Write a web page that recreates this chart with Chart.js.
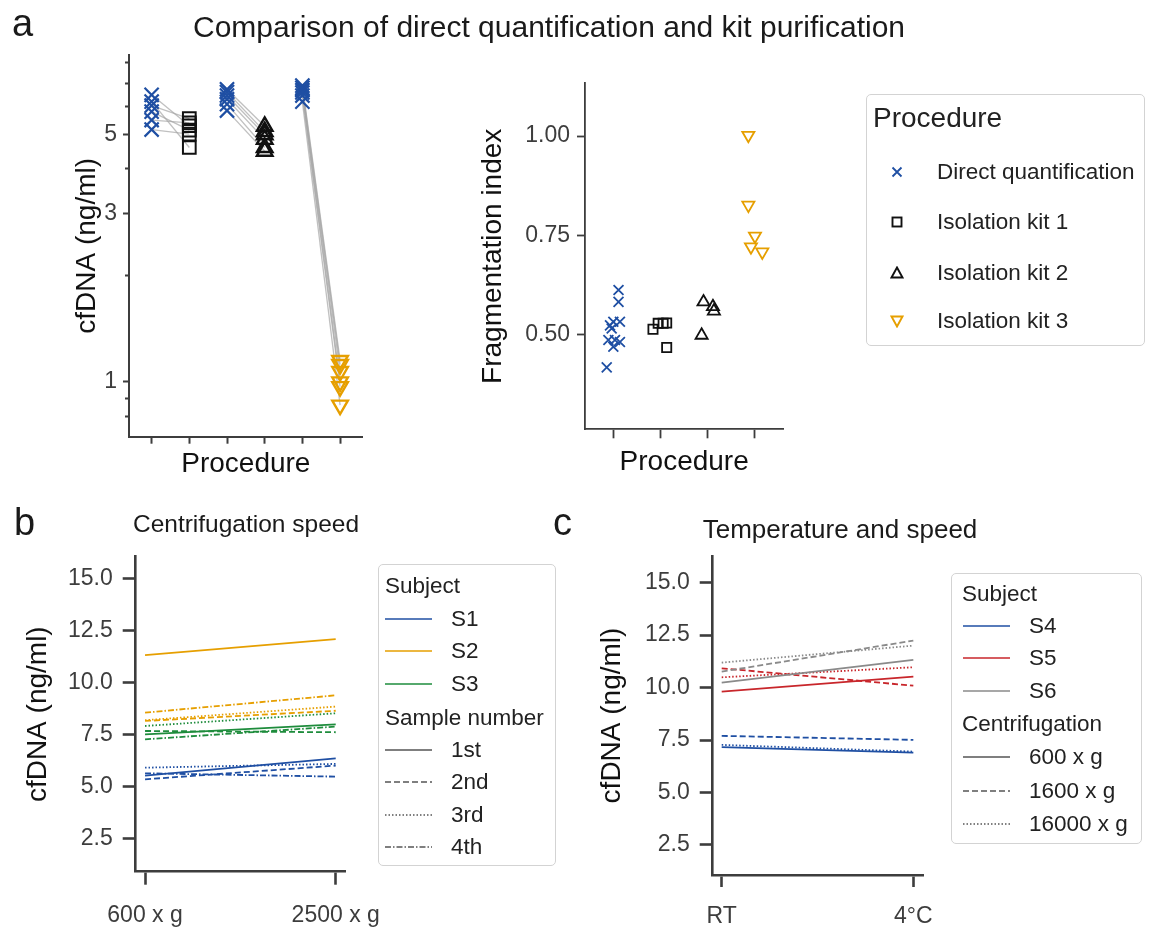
<!DOCTYPE html>
<html lang="en">
<head>
<meta charset="UTF-8">
<title>cfDNA quantification</title>
<script src="https://cdn.jsdelivr.net/npm/chart.js@4.4.1/dist/chart.umd.min.js"></script>
<style>
  body { margin: 0; background: #fff; font-family: "Liberation Sans", Arial, Helvetica, sans-serif; color: #1a1a1a; }
  #fig { position: relative; width: 1153px; height: 931px; overflow: hidden; }
  #fig canvas { position: absolute; left: 0; top: 0; }
  .t { position: absolute; white-space: nowrap; line-height: 1; }
  .box { position: absolute; border: 1.5px solid #d3d3d3; border-radius: 5px; background: #fff; box-sizing: border-box; }
  .row { position: absolute; left: 0; display: flex; align-items: center; white-space: nowrap; color: #222; }
  .row svg { position: absolute; }
</style>
</head>
<body>
<div id="fig">
  <canvas id="cA1" width="1153" height="931"></canvas>
  <canvas id="cA2" width="1153" height="931"></canvas>
  <canvas id="cB" width="1153" height="931"></canvas>
  <canvas id="cC" width="1153" height="931"></canvas>

  <div class="t" style="left:12px; top:4px; font-size:38px;">a</div>
  <div class="t" style="left:549px; top:12px; font-size:30px; transform:translateX(-50%);">Comparison of direct quantification and kit purification</div>
  <div class="t" style="left:14px; top:503px; font-size:38px;">b</div>
  <div class="t" style="left:246px; top:512px; font-size:24.5px; transform:translateX(-50%);">Centrifugation speed</div>
  <div class="t" style="left:553px; top:503px; font-size:38px;">c</div>
  <div class="t" style="left:840px; top:516px; font-size:26px; transform:translateX(-50%);">Temperature and speed</div>

  <div class="box" id="legA" style="left:866px; top:94px; width:279px; height:252px;"></div>
  <div class="box" id="legB" style="left:378px; top:564px; width:178px; height:302px;"></div>
  <div class="box" id="legC" style="left:951px; top:573px; width:191px; height:271px;"></div>
</div>

<script>
// ---- panel a, left: cfDNA (ng/ml), paired direct vs kit ----
const procedures = ['Direct quantification', 'Isolation kit 1', 'Isolation kit 2', 'Isolation kit 3'];
const directVsKit1 = [6.48, 6.20, 6.04, 5.81, 5.50, 5.17];
const kit1 = [5.30, 4.60, 5.55, 5.15, 5.40, 5.02];
const directVsKit2 = [6.72, 6.60, 6.45, 6.30, 6.10, 5.85];
const kit2 = [5.28, 5.10, 5.00, 4.85, 4.60, 4.49];
const directVsKit3 = [6.88, 6.78, 6.68, 6.58, 6.45, 6.20];
const kit3 = [1.15, 1.12, 1.07, 1.00, 0.97, 0.86];
const logTicks = [0.8, 0.9, 1, 2, 3, 4, 5, 6, 7, 8];
const logLabels = [1, 3, 5];

// ---- panel a, right: fragmentation index (value, strip offset) ----
const fragDirect = [0.612, 0.582, 0.532, 0.532, 0.523, 0.515, 0.486, 0.486, 0.481, 0.469, 0.417];
const fragDirectJit = [0.11, 0.11, 0.0, 0.14, -0.07, -0.035, -0.105, 0.035, 0.14, 0.0, -0.14];
const fragKit1 = [0.513, 0.528, 0.528, 0.529, 0.467];
const fragKit1Jit = [-0.16, -0.05, 0.055, 0.13, 0.13];
const fragKit2 = [0.582, 0.570, 0.559, 0.498];
const fragKit2Jit = [-0.09, 0.11, 0.13, -0.13];
const fragKit3 = [1.002, 0.826, 0.748, 0.721, 0.708];
const fragKit3Jit = [-0.14, -0.14, 0.0, -0.085, 0.155];
const fragTicks = [0.5, 0.75, 1.0];

// ---- panel b: centrifugation speed, [600 x g, 2500 x g] per sample 1st..4th ----
const speedLabels = ['600 x g', '2500 x g'];
const sampleNames = ['1st', '2nd', '3rd', '4th'];
const s1 = [[5.54, 6.37], [5.36, 6.02], [5.92, 6.10], [5.65, 5.49]];
const s2 = [[11.32, 12.09], [8.16, 8.65], [8.20, 8.85], [8.56, 9.39]];
const s3 = [[7.52, 8.00], [7.68, 7.62], [7.92, 8.53], [7.28, 7.89]];

// ---- panel c: temperature, [RT, 4°C] per centrifugation ----
const tempLabels = ['RT', '4°C'];
const spinNames = ['600 x g', '1600 x g', '16000 x g'];
const s4 = [[7.16, 6.90], [7.70, 7.51], [7.27, 6.95]];
const s5 = [[9.81, 10.52], [10.92, 10.09], [10.49, 10.97]];
const s6 = [[10.24, 11.32], [10.76, 12.24], [11.19, 12.00]];
const cfTicks = [2.5, 5.0, 7.5, 10.0, 12.5, 15.0];

const W = 1153, H = 931;
const FONT = '"Liberation Sans", Arial, Helvetica, sans-serif';
const AXIS = '#3d3d3d';
const TICKTXT = '#3d3d3d';
const BLUE = '#1f4fa3', ORANGE = '#e69f00', GREEN = '#1e8c3c', RED = '#c8262b', GREY = '#8a8a8a', BLACK = '#111';
const DASH = [[], [6, 3], [1.5, 2], [6, 2, 1.5, 2]];
const TITLE_SIZE = 28, TICK_SIZE = 23;

Chart.defaults.font.family = FONT;
Chart.defaults.animation = false;

// area: chart area rectangle in page pixels, plus axis title placement
function build(id, area, datasets, x, y) {
  const lh = TITLE_SIZE * 1.2;
  const padLeft = area.yTitleX - lh / 2;
  return new Chart(document.getElementById(id), {
    type: 'scatter',
    data: { datasets },
    options: {
      responsive: false,
      animation: false,
      layout: { padding: { left: padLeft, top: area.top, right: W - area.right, bottom: 0 } },
      plugins: { legend: { display: false }, tooltip: { enabled: false } },
      scales: {
        x: {
          type: 'linear', min: x.min, max: x.max,
          afterFit: s => { s.height = H - area.bottom; },
          afterBuildTicks: s => { s.ticks = x.ticks.map(v => ({ value: v })); },
          border: { display: true, color: AXIS, width: area.lw },
          grid: { drawOnChartArea: false, tickLength: x.tickLength, tickWidth: area.lw, tickColor: AXIS },
          ticks: {
            display: !!x.labels, padding: x.pad || 0, maxRotation: 0, autoSkip: false,
            color: TICKTXT, font: { size: TICK_SIZE },
            callback: (v, i) => x.labels ? x.labels[i] : ''
          },
          title: x.title ? {
            display: true, text: x.title, color: BLACK, font: { size: TITLE_SIZE },
            padding: { top: 0, bottom: H - x.titleY - lh / 2 }
          } : { display: false }
        },
        y: {
          type: y.type || 'linear', min: y.min, max: y.max,
          afterFit: s => { s.width = area.left - padLeft; },
          afterBuildTicks: s => { s.ticks = y.ticks.map(v => ({ value: v })); },
          border: { display: true, color: AXIS, width: area.lw },
          grid: {
            drawOnChartArea: false, tickLength: y.tickLength, tickWidth: area.lw, tickColor: AXIS,
            tickBorderDash: y.tickDash || (() => [])
          },
          ticks: {
            padding: y.pad, color: TICKTXT, font: { size: TICK_SIZE },
            callback: y.format
          },
          title: {
            display: true, text: y.title, color: BLACK, font: { size: TITLE_SIZE },
            padding: { top: 0, bottom: 0 }
          }
        }
      }
    }
  });
}

// ---------- panel a, left ----------
const pairs = [[directVsKit1, kit1, 0], [directVsKit2, kit2, 2], [directVsKit3, kit3, 4]];
const connectors = [];
pairs.forEach(([d, k, x0]) => d.forEach((v, i) => connectors.push({
  data: [{ x: x0, y: v }, { x: x0 + 1, y: k[i] }],
  showLine: true, pointRadius: 0, borderColor: 'rgba(165,165,165,0.7)', borderWidth: 1.3, order: 2
})));
const directPts = [];
pairs.forEach(([d, , x0]) => d.forEach(v => directPts.push({ x: x0, y: v })));

build('cA1', { left: 129, top: 55, right: 362.7, bottom: 436.7, yTitleX: 87, lw: 2 }, [
  { data: directPts, pointStyle: 'crossRot', pointRadius: 10, borderColor: BLUE, borderWidth: 2.2, order: 1 },
  { data: kit1.map(v => ({ x: 1, y: v })), pointStyle: 'rect', pointRadius: 9, borderColor: BLACK, backgroundColor: 'rgba(0,0,0,0)', borderWidth: 2, order: 1 },
  { data: kit2.map(v => ({ x: 3, y: v })), pointStyle: 'triangle', pointRadius: 9, borderColor: BLACK, backgroundColor: 'rgba(0,0,0,0)', borderWidth: 2.4, order: 1 },
  { data: kit3.map(v => ({ x: 5, y: v })), pointStyle: 'triangle', pointRotation: 180, pointRadius: 9, borderColor: ORANGE, backgroundColor: 'rgba(0,0,0,0)', borderWidth: 2.4, order: 1 },
  ...connectors
], {
  min: -0.6, max: 5.6, ticks: [0, 1, 2, 3, 4, 5], tickLength: 7, title: 'Procedure', titleY: 464
}, {
  type: 'logarithmic', min: 0.71, max: 8.4, ticks: logTicks, tickLength: 6, pad: 6,
  tickDash: ctx => logLabels.includes(ctx.tick.value) ? [] : [0, 2, 4],
  format: v => logLabels.includes(v) ? String(v) : '',
  title: 'cfDNA (ng/ml)'
});

// ---------- panel a, right ----------
const strip = (vals, jit, c) => vals.map((v, i) => ({ x: c + jit[i], y: v }));
build('cA2', { left: 585, top: 83.3, right: 783.3, bottom: 429.3, yTitleX: 493, lw: 1.8 }, [
  { data: strip(fragDirect, fragDirectJit, 0), pointStyle: 'crossRot', pointRadius: 7, borderColor: BLUE, borderWidth: 1.8 },
  { data: strip(fragKit1, fragKit1Jit, 1), pointStyle: 'rect', pointRadius: 6.5, borderColor: BLACK, backgroundColor: 'rgba(0,0,0,0)', borderWidth: 1.8 },
  { data: strip(fragKit2, fragKit2Jit, 2), pointStyle: 'triangle', pointRadius: 7, borderColor: BLACK, backgroundColor: 'rgba(0,0,0,0)', borderWidth: 1.8 },
  { data: strip(fragKit3, fragKit3Jit, 3), pointStyle: 'triangle', pointRotation: 180, pointRadius: 7, borderColor: ORANGE, backgroundColor: 'rgba(0,0,0,0)', borderWidth: 1.8 }
], {
  min: -0.6, max: 3.6, ticks: [0, 1, 2, 3], tickLength: 9, title: 'Procedure', titleY: 462
}, {
  min: 0.261, max: 1.133, ticks: fragTicks, tickLength: 8, pad: 7,
  format: v => v.toFixed(2), title: 'Fragmentation index'
});

// ---------- panels b and c ----------
function lineSets(groups) {
  const out = [];
  groups.forEach(([vals, color]) => vals.forEach((pair, i) => out.push({
    data: pair.map((v, j) => ({ x: j, y: v })),
    showLine: true, pointRadius: 0, borderColor: color, borderWidth: 1.8, borderDash: DASH[i]
  })));
  return out;
}

build('cB', { left: 135.7, top: 556.7, right: 346, bottom: 871.7, yTitleX: 38, lw: 2.6 },
  lineSets([[s2, ORANGE], [s3, GREEN], [s1, BLUE]]),
  { min: -0.049, max: 1.054, ticks: [0, 1], tickLength: 13, labels: speedLabels, pad: 17 },
  { min: 0.93, max: 16.04, ticks: cfTicks, tickLength: 13, pad: 10, format: v => v.toFixed(1), title: 'cfDNA (ng/ml)' });

build('cC', { left: 712.7, top: 556, right: 923.3, bottom: 875, yTitleX: 612, lw: 2.6 },
  lineSets([[s6, GREY], [s5, RED], [s4, BLUE]]),
  { min: -0.047, max: 1.052, ticks: [0, 1], tickLength: 12, labels: tempLabels, pad: 16 },
  { min: 1.07, max: 16.27, ticks: cfTicks, tickLength: 13, pad: 10, format: v => v.toFixed(1), title: 'cfDNA (ng/ml)' });

// ---------- legends (HTML) ----------
function marker(style, color) {
  const s = 14;
  if (style === 'x') return `<svg width="${s}" height="${s}"><path d="M2.5 2.5L11.5 11.5M11.5 2.5L2.5 11.5" stroke="${color}" stroke-width="1.8"/></svg>`;
  if (style === 'sq') return `<svg width="${s}" height="${s}"><rect x="2.5" y="2.5" width="9" height="9" fill="none" stroke="${color}" stroke-width="1.9"/></svg>`;
  if (style === 'up') return `<svg width="${s}" height="${s}"><path d="M7 1.5L12.5 11.5H1.5Z" fill="none" stroke="${color}" stroke-width="1.9"/></svg>`;
  return `<svg width="${s}" height="${s}"><path d="M7 12.5L12.5 2.5H1.5Z" fill="none" stroke="${color}" stroke-width="1.9"/></svg>`;
}
function lineSample(color, dash, len) {
  return `<svg width="${len}" height="6"><line x1="0" y1="3" x2="${len}" y2="3" stroke="${color}" stroke-width="1.6" stroke-dasharray="${dash.join(' ')}"/></svg>`;
}
function addRow(box, cy, h, html, size) {
  const r = document.createElement('div');
  r.className = 'row';
  r.style.top = (cy - h / 2) + 'px';
  r.style.height = h + 'px';
  r.style.width = '100%';
  r.style.fontSize = size + 'px';
  r.innerHTML = html;
  box.appendChild(r);
}

const legA = document.getElementById('legA');
addRow(legA, 23, 36, '<span style="position:absolute;left:6px;">Procedure</span>', 28);
const legAMarks = [['x', BLUE], ['sq', BLACK], ['up', BLACK], ['down', ORANGE]];
const legAY = [76.5, 126.5, 177.5, 226];
procedures.forEach((p, i) => addRow(legA, legAY[i], 36,
  `<span style="position:absolute;left:23px;top:11px;">${marker(legAMarks[i][0], legAMarks[i][1])}</span>` +
  `<span style="position:absolute;left:70px;">${p}</span>`, 22.5));

function lineLegend(box, rowsY, title1, names1, colors, title2, names2, o) {
  let k = 0;
  const head = t => addRow(box, rowsY[k++], 30, `<span style="position:absolute;left:${o.head}px;">${t}</span>`, 22.5);
  const item = (t, color, dash) => addRow(box, rowsY[k++], 30,
    `<span style="position:absolute;left:${o.line}px;top:12px;">${lineSample(color, dash, o.len)}</span>` +
    `<span style="position:absolute;left:${o.text}px;">${t}</span>`, 22.5);
  head(title1);
  names1.forEach((n, i) => item(n, colors[i], []));
  head(title2);
  names2.forEach((n, i) => item(n, '#555', DASH[i]));
}
lineLegend(document.getElementById('legB'), [20.5, 54, 86, 119, 152.5, 185, 217, 250, 281.5],
  'Subject', ['S1', 'S2', 'S3'], [BLUE, ORANGE, GREEN], 'Sample number', sampleNames,
  { head: 6, line: 6, len: 47, text: 72 });
lineLegend(document.getElementById('legC'), [19.5, 51.5, 84, 117, 150, 183, 216.5, 249.5],
  'Subject', ['S4', 'S5', 'S6'], [BLUE, RED, GREY], 'Centrifugation', spinNames,
  { head: 10, line: 11, len: 47, text: 77 });
</script>
</body>
</html>
